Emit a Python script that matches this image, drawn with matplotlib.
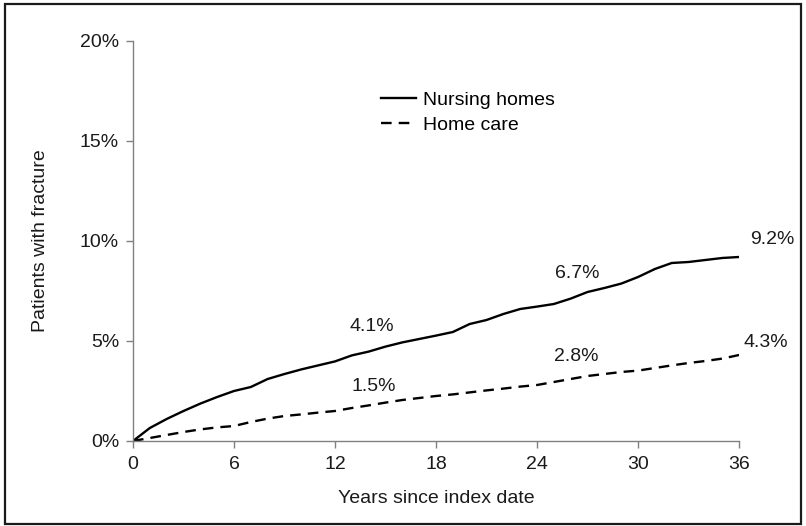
import matplotlib.pyplot as plt
from matplotlib.patches import Rectangle
from matplotlib.ticker import PercentFormatter

plt.rcParams['font.family'] = ['Liberation Sans', 'DejaVu Sans']

months = list(range(0, 37))

# cumulative share of patients with a fracture (%)
nursing_homes = [0.0, 0.65, 1.1, 1.5, 1.87, 2.2, 2.5, 2.7, 3.1, 3.35,
                 3.58, 3.78, 3.98, 4.28, 4.47, 4.72, 4.93, 5.1, 5.27, 5.45,
                 5.85, 6.05, 6.35, 6.6, 6.72, 6.85, 7.12, 7.45, 7.65, 7.87,
                 8.2, 8.6, 8.9, 8.95, 9.05, 9.15, 9.2]
home_care = [0.0, 0.15, 0.3, 0.45, 0.58, 0.68, 0.75, 0.95, 1.12, 1.25,
             1.33, 1.42, 1.5, 1.65, 1.78, 1.92, 2.05, 2.15, 2.25, 2.33,
             2.43, 2.53, 2.62, 2.72, 2.8, 2.95, 3.1, 3.25, 3.35, 3.45,
             3.52, 3.65, 3.78, 3.9, 4.0, 4.12, 4.3]

# value callouts: (month, value) for each series
label_months = [12, 24, 36]
nursing_labels = [4.1, 6.7, 9.2]
home_labels = [1.5, 2.8, 4.3]

text_col = '#1a1a1a'
axis_col = '#808080'
fs = 14

fig = plt.figure(figsize=(8.06, 5.26), dpi=100)
ax = fig.add_axes([0.165, 0.1616, 0.752, 0.7605])

ax.plot(months, nursing_homes, color='black', lw=1.7, label='Nursing homes')
ax.plot(months, home_care, color='black', lw=1.7, dashes=(4.5, 3),
        label='Home care')

# callout positions relative to the curve points
nh_offsets = [(2.2, 1.6), (2.4, 1.65), (1.95, 0.85)]
hc_offsets = [(2.3, 1.2), (2.3, 1.4), (1.6, 0.6)]
for m, v, (dx, dy) in zip(label_months, nursing_labels, nh_offsets):
    ax.text(m + dx, v + dy, f'{v}%', ha='center', va='center',
            fontsize=fs, color=text_col, clip_on=False)
for m, v, (dx, dy) in zip(label_months, home_labels, hc_offsets):
    ax.text(m + dx, v + dy, f'{v}%', ha='center', va='center',
            fontsize=fs, color=text_col, clip_on=False)

ax.set_xlim(0, 36)
ax.set_ylim(0, 20)
ax.set_xticks(range(0, 37, 6))
ax.set_yticks(range(0, 21, 5))
ax.yaxis.set_major_formatter(PercentFormatter(decimals=0))

for s in ['top', 'right']:
    ax.spines[s].set_visible(False)
for s in ['left', 'bottom']:
    ax.spines[s].set_color(axis_col)
    ax.spines[s].set_linewidth(1.0)
ax.tick_params(colors=axis_col, length=5, width=1.0, labelcolor=text_col,
               labelsize=fs)
ax.tick_params(axis='x', pad=6)
ax.tick_params(axis='y', pad=5)

ax.set_xlabel('Years since index date', fontsize=fs, color=text_col,
              labelpad=12)
ax.set_ylabel('Patients with fracture', fontsize=fs, color=text_col,
              labelpad=22)

ax.legend(loc='upper left', bbox_to_anchor=(0.41, 0.875), frameon=False,
          fontsize=fs, handlelength=1.75, handletextpad=0.4,
          labelspacing=0.4, borderpad=0, borderaxespad=0)

# outer frame around the whole figure
fig.patches.append(Rectangle((5 / 806, 2 / 526), 796 / 806, 520 / 526,
                             transform=fig.transFigure, fill=False,
                             edgecolor='#1a1a1a', lw=1.6))

fig.savefig('out.png', dpi=100)
